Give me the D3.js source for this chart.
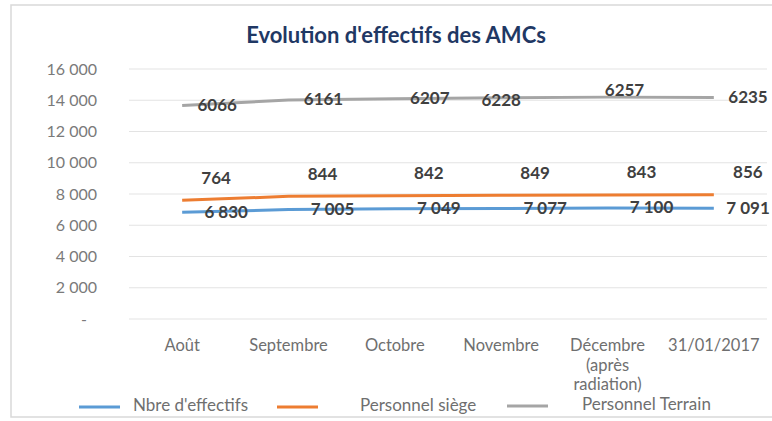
<!DOCTYPE html>
<html>
<head>
<meta charset="utf-8">
<script src="https://cdn.jsdelivr.net/npm/d3@7"></script>
<style>
  body { margin: 0; background: #fff; }
  svg { font-family: Lato, "Open Sans", sans-serif; }
</style>
</head>
<body>
<div id="chart"></div>
<script>
// data
const months = ["Août", "Septembre", "Octobre", "Novembre", "Décembre (après radiation)", "31/01/2017"];
const effectifs = [6830, 7005, 7049, 7077, 7100, 7091];
const siege = [764, 844, 842, 849, 843, 856];
const terrain = [6066, 6161, 6207, 6228, 6257, 6235];
const yTicks = [0, 2000, 4000, 6000, 8000, 10000, 12000, 14000, 16000];

const spaceFmt = d => d3.format(",")(d).replace(",", " ");

const series = [
  { key: "effectifs", name: "Nbre d'effectifs", color: "#5b9bd5", fmt: spaceFmt, dx: 44, dy: 1 },
  { key: "siege", name: "Personnel siège", color: "#ed7d31", fmt: d => d, dx: 34, dy: -21 },
  { key: "terrain", name: "Personnel Terrain", color: "#a5a5a5", fmt: d => d, dx: 35, dy: 1 }
];
// a few labels were nudged by hand in the original
const nudge = { "terrain-3": [-35, 3], "terrain-4": [-18, -6] };

const rows = months.map((m, i) => ({
  month: m, effectifs: effectifs[i], siege: siege[i], terrain: terrain[i]
}));

const width = 772, height = 421;
const svg = d3.select("#chart").append("svg")
  .attr("width", width).attr("height", height);

svg.append("rect")
  .attr("x", 11).attr("y", 5)
  .attr("width", 780).attr("height", 412)
  .style("fill", "#fff").style("stroke", "#d9d9d9").style("stroke-width", 1.5);

svg.append("text")
  .attr("x", 396).attr("y", 43)
  .style("text-anchor", "middle")
  .style("font-size", "22px").style("font-weight", "bold")
  .style("fill", "#1f3864")
  .text("Evolution d'effectifs des AMCs");

const x = d3.scaleBand().domain(months).range([129, 767]);
const y = d3.scaleLinear().domain([0, 16000]).range([319, 69]);

// grid
svg.append("g").selectAll("line").data(yTicks).join("line")
  .attr("x1", 129).attr("x2", 767)
  .attr("y1", d => y(d)).attr("y2", d => y(d))
  .style("stroke", "#e3e3e3").style("stroke-width", 1.2);

// y axis labels
const yAxis = svg.append("g").attr("transform", "translate(97,0)")
  .call(d3.axisLeft(y).tickValues(yTicks).tickSize(0).tickPadding(0)
    .tickFormat(d => d === 0 ? "-" : spaceFmt(d)));
yAxis.select(".domain").remove();
yAxis.selectAll("text")
  .style("font-family", "Lato, sans-serif")
  .style("font-size", "16px").style("fill", "#7a7a7a");
yAxis.selectAll("text").filter(d => d === 0).attr("dx", -10);

// x axis labels (wrapped)
const xAxis = svg.append("g").attr("transform", "translate(0,319)")
  .call(d3.axisBottom(x).tickSize(0).tickPadding(0).tickFormat(""));
xAxis.select(".domain").remove();
const wrap = { "Décembre (après radiation)": ["Décembre", "(après", "radiation)"] };
xAxis.selectAll(".tick").append("text")
  .attr("y", 32)
  .style("text-anchor", "middle")
  .style("font-size", "16.5px").style("fill", "#6f6f6f")
  .style("font-family", "Lato, sans-serif")
  .selectAll("tspan").data(d => wrap[d] || [d]).join("tspan")
  .attr("x", 0).attr("dy", (d, i) => i === 0 ? 0 : 19.5)
  .text(d => d);

// stacked lines
const stacked = d3.stack().keys(series.map(s => s.key))(rows);
const line = d3.line()
  .x((d, i) => x(months[i]) + x.bandwidth() / 2)
  .y(d => y(d[1]));

stacked.forEach((layer, si) => {
  const s = series[si];
  svg.append("path")
    .datum(layer)
    .attr("d", line)
    .style("fill", "none")
    .style("stroke", s.color)
    .style("stroke-width", 3);
});

stacked.forEach((layer, si) => {
  const s = series[si];
  const n = (i) => nudge[s.key + "-" + i] || [0, 0];
  svg.append("g").selectAll("text").data(layer).join("text")
    .attr("x", (d, i) => Math.min(x(months[i]) + x.bandwidth() / 2 + s.dx + n(i)[0], 748))
    .attr("y", (d, i) => y(d[1]) + s.dy + n(i)[1])
    .attr("dominant-baseline", "middle")
    .style("text-anchor", "middle")
    .style("font-size", "17px").style("font-weight", "bold")
    .style("fill", "#404040")
    .text((d, i) => s.fmt(rows[i][s.key]));
});

// legend
const legendX = [{ lx: 79, tx: 133 }, { lx: 277, tx: 360 }, { lx: 507, tx: 582 }];
const legend = svg.append("g").selectAll("g").data(series).join("g")
  .attr("transform", (d, i) => `translate(0,${i === 2 ? 406 : 407})`);
legend.append("line")
  .attr("x1", (d, i) => legendX[i].lx).attr("x2", (d, i) => legendX[i].lx + 41)
  .style("stroke", d => d.color).style("stroke-width", 3);
legend.append("text")
  .attr("x", (d, i) => legendX[i].tx)
  .attr("dominant-baseline", "middle")
  .style("font-size", "17px").style("fill", "#6f6f6f")
  .text(d => d.name);
</script>
</body>
</html>
